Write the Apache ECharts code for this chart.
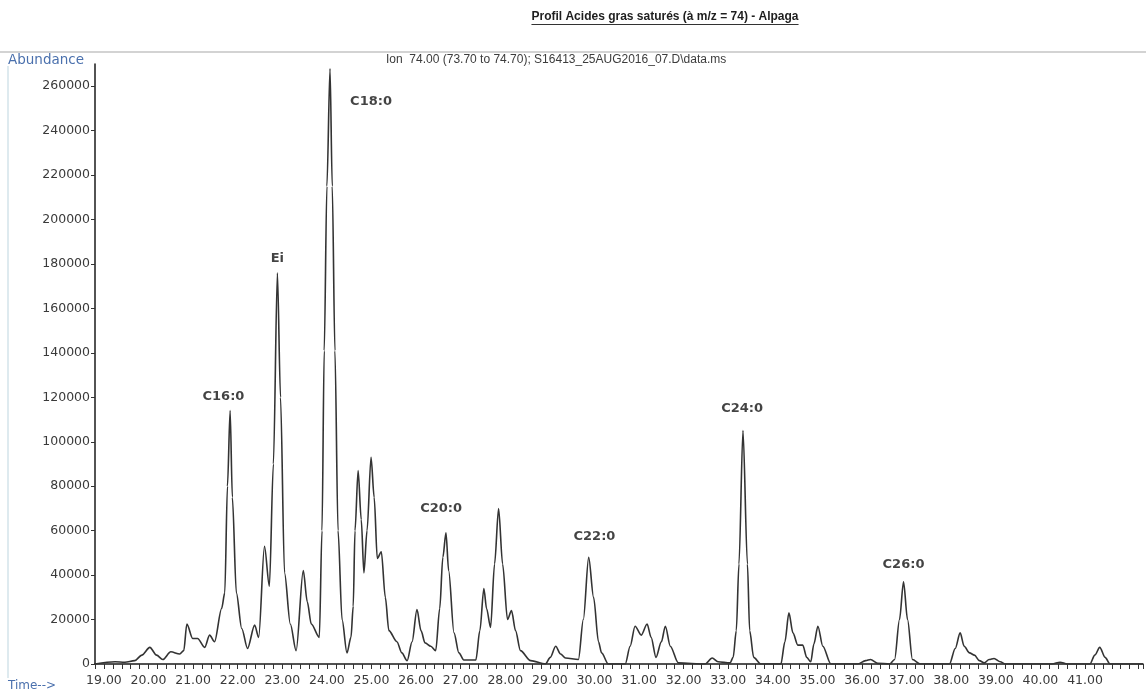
<!DOCTYPE html>
<html>
<head>
<meta charset="utf-8">
<script src="https://cdn.jsdelivr.net/npm/echarts@6/dist/echarts.min.js"></script>
<style>
html,body{margin:0;padding:0;background:#fff;}
#chart{width:1146px;height:693px;}
</style>
</head>
<body>
<div id="chart"></div>
<script>
// Retention time (min)
const times = [
  18.80, 19.25, 19.47, 19.69, 19.85, 20.03, 20.18, 20.32, 20.50, 20.70,
  20.79, 20.86, 20.99, 21.10, 21.26, 21.37, 21.48, 21.64, 21.71, 21.77,
  21.83, 21.88, 21.97, 22.09, 22.22, 22.38, 22.47, 22.60, 22.71, 22.80,
  22.89, 22.96, 23.05, 23.18, 23.31, 23.47, 23.56, 23.65, 23.83, 23.89,
  23.94, 24.00, 24.07, 24.12, 24.18, 24.25, 24.34, 24.45,
  24.54, 24.59, 24.63, 24.70, 24.77, 24.83, 24.90, 24.99, 25.06, 25.13,
  25.22, 25.31, 25.39, 25.57, 25.68, 25.80, 25.91, 26.02, 26.11, 26.20,
  26.33, 26.44, 26.53, 26.60, 26.67, 26.73, 26.85, 26.96, 27.07, 27.34,
  27.43, 27.52, 27.58, 27.67, 27.76, 27.85, 27.94, 28.05, 28.14, 28.23,
  28.34, 28.57, 28.90, 29.01, 29.13, 29.24, 29.35, 29.64, 29.75, 29.87,
  29.98, 30.09, 30.16, 30.31, 30.69,
  30.80, 30.91, 31.05, 31.18, 31.27, 31.38, 31.50, 31.59, 31.70, 31.88,
  32.48, 32.64, 32.77, 33.04, 33.11, 33.18, 33.24, 33.33, 33.43, 33.48,
  33.57, 33.73, 34.18, 34.27, 34.36, 34.45, 34.56, 34.67, 34.76, 34.85,
  34.92, 35.01, 35.12, 35.30, 35.90, 36.08, 36.19, 36.35, 36.62,
  36.73, 36.84, 36.93, 37.02, 37.13, 37.31, 37.96, 38.09, 38.20, 38.29,
  38.41, 38.52, 38.63, 38.74, 38.85, 38.96, 39.10, 39.21, 40.26, 40.44,
  40.60, 41.11, 41.22, 41.33, 41.45, 41.56, 42.30
];
// Abundance (counts)
const abundance = [
  0, 1000, 800, 1500, 4000, 7500, 4000, 2000, 5500, 4500,
  6000, 18000, 11500, 11500, 7500, 13000, 10000, 25000, 32000, 80000,
  114000, 75000, 32000, 16000, 7000, 17500, 12000, 53000, 35000, 90000,
  176000, 120000, 41000, 18000, 6000, 42000, 28000, 18000, 12000, 60000,
  141000, 215000, 268000, 215000, 141000, 60000, 20000, 5000,
  12000, 26000, 60000, 87000, 65000, 41000, 60000, 93000, 75000, 47500,
  50500, 30000, 15000, 10000, 5000, 1500, 10000, 24500, 15000, 9500,
  8000, 6000, 25000, 48000, 59000, 42000, 14000, 5000, 1800, 1800,
  15000, 34000, 25000, 16500, 45000, 70000, 45000, 20000, 24000, 15000,
  6000, 1500, 0, 3000, 8000, 4500, 2700, 2000, 20000, 48000,
  30000, 10000, 5000, 0, 0,
  8000, 17000, 13000, 18000, 12000, 3000, 10000, 17000, 8000, 500,
  0, 2700, 1000, 500, 3000, 15000, 45000, 105000, 45000, 15000,
  3000, 0, 0, 10000, 23000, 14000, 8500, 8500, 3000, 1000,
  9000, 17000, 8000, 0, 0, 1500, 2000, 300, 0,
  2000, 20000, 37000, 20000, 2000, 0, 0, 7000, 14000, 8000,
  5000, 4000, 1500, 500, 2000, 2500, 1000, 0, 0, 800,
  0, 0, 4000, 7500, 3000, 0, 0
];
// Peak annotations
const peakNames = ['C16:0', 'Ei', 'C18:0', 'C20:0', 'C22:0', 'C24:0', 'C26:0'];
const peakTimes = [21.68, 22.89, 24.99, 26.56, 30.00, 33.31, 36.93];
const peakLevels = [120500, 182600, 253000, 70000, 57500, 115000, 44500];

const yTicks = { min: 0, max: 270000, interval: 20000 };
const xTicks = { min: 18.8, max: 42.3, interval: 0.2, lastLabel: 41 };

const titleText = 'Profil Acides gras saturés (à m/z = 74) - Alpaga';
const ionText = 'Ion  74.00 (73.70 to 74.70); S16413_25AUG2016_07.D\\data.ms';

const traceData = times.map((t, i) => [t, abundance[i]]);
const peakData = peakNames.map((n, i) => ({ name: n, value: [peakTimes[i], peakLevels[i]] }));

const titleFont = 'bold 12px "Liberation Sans Narrow", "Liberation Sans", sans-serif';
const cv = document.createElement('canvas').getContext('2d');
cv.font = titleFont;
const tw = cv.measureText(titleText).width;
const tcx = 665;

const chart = echarts.init(document.getElementById('chart'), null, { renderer: 'canvas' });
chart.setOption({
  animation: false,
  backgroundColor: '#ffffff',
  grid: { left: 95, right: 0, top: 64, bottom: 29, containLabel: false },
  xAxis: {
    type: 'value',
    min: xTicks.min, max: xTicks.max, interval: xTicks.interval,
    axisLine: { show: true, lineStyle: { color: '#1a1a1a', width: 1.5 } },
    axisTick: { show: true, length: 5, lineStyle: { color: '#333', width: 1 } },
    splitLine: { show: false },
    axisLabel: {
      margin: 10,
      color: '#3a3a3a',
      fontFamily: 'DejaVu Sans',
      fontSize: 12.5,
      formatter: function (v) {
        const r = Math.round(v);
        return (Math.abs(v - r) < 1e-6 && r <= xTicks.lastLabel) ? r.toFixed(2) : '';
      }
    }
  },
  yAxis: {
    type: 'value',
    min: yTicks.min, max: yTicks.max, interval: yTicks.interval,
    axisLine: { show: true, lineStyle: { color: '#1a1a1a', width: 1.5 } },
    axisTick: { show: true, length: 4, lineStyle: { color: '#333' } },
    splitLine: { show: false },
    axisLabel: {
      showMaxLabel: false,
      margin: 5,
      color: '#3a3a3a',
      fontFamily: 'DejaVu Sans',
      fontSize: 12.5,
      formatter: function (v) { return String(Math.round(v)); }
    }
  },
  series: [
    {
      type: 'line',
      data: traceData,
      showSymbol: false,
      smooth: 0.3,
      smoothMonotone: 'x',
      lineStyle: { color: '#333333', width: 1.6 },
      z: 3
    },
    {
      type: 'scatter',
      data: peakData,
      symbolSize: 0,
      z: 5,
      label: {
        show: true,
        position: 'inside',
        formatter: '{b}',
        color: '#141414',
        fontFamily: 'DejaVu Sans',
        fontWeight: 'bold',
        fontSize: 13
      }
    }
  ],
  graphic: [
    { type: 'text', x: tcx, y: 17, style: { text: titleText, font: titleFont, fill: '#1e1e1e', align: 'center', verticalAlign: 'middle' } },
    { type: 'line', shape: { x1: tcx - tw / 2, y1: 24.5, x2: tcx + tw / 2, y2: 24.5 }, style: { stroke: '#333', lineWidth: 1 } },
    { type: 'line', shape: { x1: 0, y1: 52, x2: 1146, y2: 52 }, style: { stroke: '#c4c4c4', lineWidth: 1.5 } },
    { type: 'line', shape: { x1: 8, y1: 66, x2: 8, y2: 678 }, style: { stroke: '#d3e3ea', lineWidth: 1.5 } },
    { type: 'text', x: 8, y: 60, style: { text: 'Abundance', font: '13.5px "DejaVu Sans"', fill: '#4a70ad', verticalAlign: 'middle' } },
    { type: 'text', x: 386, y: 60, style: { text: ionText, font: '12px "Liberation Sans"', fill: '#3c3c3c', verticalAlign: 'middle' } },
    { type: 'text', x: 8, y: 686, style: { text: 'Time-->', font: '12px "DejaVu Sans"', fill: '#4a70ad', verticalAlign: 'middle' } }
  ]
});
</script>
</body>
</html>
